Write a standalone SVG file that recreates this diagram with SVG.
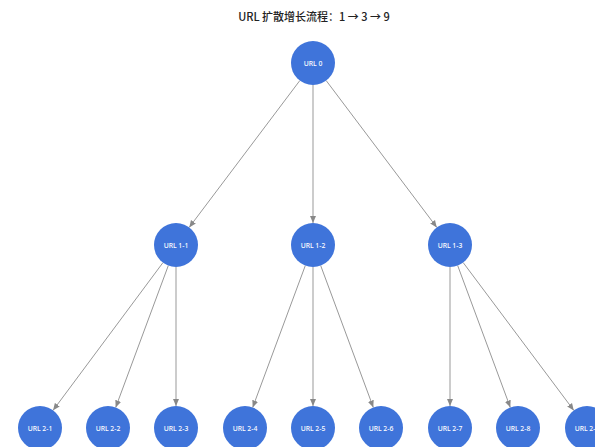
<svg xmlns="http://www.w3.org/2000/svg" width="595" height="447" viewBox="0 0 595 447">
  <style>
    .title { font-family: "Noto Sans CJK SC", "Noto Sans", sans-serif; font-size: 11px; font-weight: 500; fill: #222; }
    .node circle { fill: #3f74da; }
    .node text { font-family: "Noto Sans", "Liberation Sans", sans-serif; font-size: 6.8px; font-weight: 500; fill: #ffffff; text-anchor: middle; dominant-baseline: central; }
    .edge { stroke: #999999; stroke-width: 1; fill: none; marker-end: url(#arrow); }
  </style>
  <defs>
    <marker id="arrow" markerUnits="userSpaceOnUse" markerWidth="8" markerHeight="8" refX="7" refY="4" orient="auto">
      <path d="M0,1 L7,4 L0,7 Z" fill="#888888"/>
    </marker>
  </defs>
  <rect width="595" height="447" fill="#ffffff"/>
  <text class="title" x="314" y="21" text-anchor="middle">URL 扩散增长流程：1 → 3 → 9</text>

  <g id="connectors">
    <line class="edge" x1="299.8" y1="80.6" x2="189.2" y2="227.4"/>
    <line class="edge" x1="313" y1="85" x2="313" y2="223"/>
    <line class="edge" x1="326.2" y1="80.6" x2="436.8" y2="227.4"/>

    <line class="edge" x1="162.9" y1="262.7" x2="53.1" y2="410.3"/>
    <line class="edge" x1="168.3" y1="265.6" x2="115.7" y2="407.4"/>
    <line class="edge" x1="176" y1="267" x2="176" y2="406"/>

    <line class="edge" x1="305.3" y1="265.6" x2="252.7" y2="407.4"/>
    <line class="edge" x1="313" y1="267" x2="313" y2="406"/>
    <line class="edge" x1="320.7" y1="265.6" x2="373.3" y2="407.4"/>

    <line class="edge" x1="450" y1="267" x2="450" y2="406"/>
    <line class="edge" x1="457.7" y1="265.6" x2="510.3" y2="407.4"/>
    <line class="edge" x1="463.2" y1="262.6" x2="573.8" y2="410.4"/>
  </g>

  <g id="url0" class="node"><circle cx="313" cy="63" r="22"/><text x="313" y="63">URL 0</text></g>

  <g id="url1-1" class="node"><circle cx="176" cy="245" r="22"/><text x="176" y="245">URL 1-1</text></g>
  <g id="url1-2" class="node"><circle cx="313" cy="245" r="22"/><text x="313" y="245">URL 1-2</text></g>
  <g id="url1-3" class="node"><circle cx="450" cy="245" r="22"/><text x="450" y="245">URL 1-3</text></g>

  <g id="url2-1" class="node"><circle cx="40" cy="428" r="22"/><text x="40" y="428">URL 2-1</text></g>
  <g id="url2-2" class="node"><circle cx="108" cy="428" r="22"/><text x="108" y="428">URL 2-2</text></g>
  <g id="url2-3" class="node"><circle cx="176" cy="428" r="22"/><text x="176" y="428">URL 2-3</text></g>
  <g id="url2-4" class="node"><circle cx="245" cy="428" r="22"/><text x="245" y="428">URL 2-4</text></g>
  <g id="url2-5" class="node"><circle cx="313" cy="428" r="22"/><text x="313" y="428">URL 2-5</text></g>
  <g id="url2-6" class="node"><circle cx="381" cy="428" r="22"/><text x="381" y="428">URL 2-6</text></g>
  <g id="url2-7" class="node"><circle cx="450" cy="428" r="22"/><text x="450" y="428">URL 2-7</text></g>
  <g id="url2-8" class="node"><circle cx="518" cy="428" r="22"/><text x="518" y="428">URL 2-8</text></g>
  <g id="url2-9" class="node"><circle cx="587" cy="428" r="22"/><text x="587" y="428">URL 2-9</text></g>
</svg>
